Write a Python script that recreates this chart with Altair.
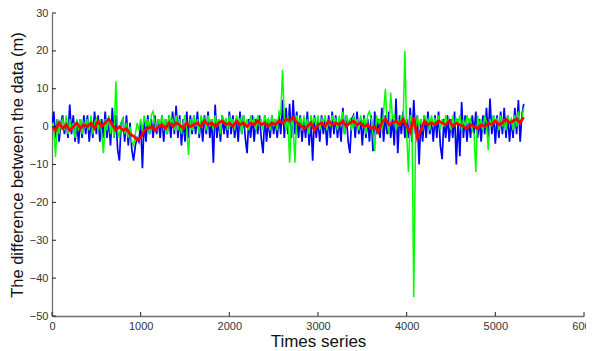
import altair as alt
import pandas as pd

# ---- data ----
x_ticks = [0, 1000, 2000, 3000, 4000, 5000, 6000]
y_ticks = [-50, -40, -30, -20, -10, 0, 10, 20, 30]

blue_step = 20
blue_vals = [
    0, 4, -3, 2, -4, 1, 3, -2, 2, -3,
    5.8, -2, 3, -4, 1, -4.5, 2, -3, 3, -2,
    3, -4, 2, -3, 4, -2, 3, -4, 2, -3,
    4, -3, 2, -5, 5, -3, 3, -6, -9, 1,
    2, -4, 3, -5, 1, -6, -9, -5, -3, -4,
    1, -11, 2, -4, 3, -2, 2, -3, 3, -2,
    2, -3, 3, -4, 2, -2, 3, -3, 4, -2,
    5.5, -3, 3, -5, 2, -4, 4, -3, 3, -2,
    3, -2, 4, -3, 2, -4, 3, -2, 4, -3,
    2, -9.5, 5.8, -3, 2, -4, 3, -2, 2, -3,
    4, -2, 3, -3, 2, -4, 4, -2, 3, -3,
    -7, 2, -3, 3, -4, 2, -2, 3, -3, -7,
    3, -4, 2, -3, 3, -2, 2, -3, 3, -2,
    7, -3, 5, -2, 6, -3, 7, -2, 4, -3,
    3, -4, 2, -3, 4, -5, 2, -9, 3, -3,
    2, -4, 3, -2, 2, -5, 3, -3, 4, -2,
    3, -3, 2, -4, 5, -2, 3, -4, -7, 2,
    3, -3, 4, -2, 2, -5, 3, -3, 2, -4,
    3, -6.5, 4, -2, 2, -3, 5, -4, 3, -2,
    4, -3, 2, -5, 7.4, -7, 3, -2, 4, -3,
    2, -3, 5, -4, 7, -2, 3, -10, 2, -4,
    3, -3, 4, -2, 2, -4, 3, -3, 4, -5,
    -8.6, 2, -3, 3, -4, 2, -3, 4, -10, 2,
    -7.8, 6.5, -3, 3, -4, 2, -3, 3, -2, 4,
    -3, 2, -4, 3, -2, 5, -3, 7.4, -2, 3,
    -4.5, 3, -3, 4, -2, 5, -3, 3, -4, 2,
    -3, 5, -2, 7, -4, 3, 6,
]

green_step = 20
green_vals = [
    1, -1, -8, 2, -2, 1, 2, -1, 3, -2,
    2, -1, 1, -3, 2, -1, 2, -2, 1, 0,
    2, -1, 3, -2, 1, 2, -1, 2, -2, -7,
    2, -1, 3, -2, 1, -3, 12, -1, -3, 1,
    2, -2, 1, -3, 0, -4, -5, -2, 1, -1,
    2, -1, 3, 0, 2, -2, 3, 4, 1, -1,
    2, 0, 3, -1, 2, -2, 3, 1, 2, -1,
    3, -1, 2, -2, 1, 3, -1, -7.5, 2, -1,
    3, 0, 2, -2, 3, 1, 2, -1, 3, 0,
    2, -1, 3, 0, 2, -2, 3, 1, 2, -1,
    3, 0, 2, -1, 3, 1, 2, -2, 3, 0,
    2, -1, 3, 1, 2, -1, 3, 0, 2, -1,
    3, 1, 2, -1, 3, 0, 2, -1, 4, 3,
    15, 2, -1, 3, -9.5, 2, 0, -9.5, 3, 1,
    2, -1, 3, 0, 2, -2, 3, 1, 2, 0,
    3, -1, 2, 1, 3, -1, 2, 0, 3, 1,
    2, -1, 3, 0, 4, -2, 3, 1, 2, -1,
    3, 0, 2, -1, 3, 1, 2, -2, 3, 4,
    2, -2, -6.5, 3, 1, 2, -1, 4, 10, 1,
    -2, 9, 2, 3, -1, 2, 0, 3, 1, 20,
    -2, -12, 3, 1, -45, -3, 3, 0, 2, -1,
    3, 1, 2, -1, 3, 0, 2, 1, 3, -1,
    2, 0, 3, 1, 2, -1, 3, 0, 2, 1,
    3, -1, 2, 0, 3, 1, 2, -1, -2, -12,
    3, 0, 2, -1, 3, 1, -6.2, 2, 0, 3,
    1, 2, -1, 3, 0, 2, -1, 3, 1, 2,
    -1, 3, 0, 4, 1, 2, 5,
]

red_step = 40
red_vals = [
    0, -1, 1, -0.5, 0.5, -1, 0, 1, -0.5, 0.5,
    0, 1, -0.5, 1.5, 0, 1, 2, 0.5, -1, 0,
    -1, -0.5, -2, -2.5, -3.5, -3, -1, -0.5, 0, -1,
    0, 0.5, -0.5, 1, 0, 1, 0.5, -0.5, 1, 0,
    0.5, 1, 0, 1.5, 0.5, 1, 0, 1, 1.5, 0.5,
    1, 0, 1.5, 0.5, 1, 0, 1, 0.5, 1.5, 0.5,
    1, 0, 1, 0.5, 1.5, 1, 2, 1.5, 2.5, 1,
    0.5, -0.5, 0, 1, -1, 0.5, 1, 0, 1.5, 0.5,
    1, 0.5, 1.5, 0, 1, 1.5, 0.5, 1, 0, 0.5,
    -0.5, 0, -1.5, 1, 2, 0.5, 1, 1.5, 0.5, 2,
    0, -1.5, 2.5, -3, -1, 1.5, 0.5, 1, 0.5, 1.5,
    1, 0.5, 1.5, 0, 1, 0.5, 0, -0.5, 0.5, 0,
    -0.5, 0.5, 0, 1, 0.5, 1.5, 0.5, 1, 2, 1,
    1.5, 2, 1, 2.5,
]

W, H = 532, 303
FONT = "Liberation Sans"
AXIS_GRAY = "#6e6e6e"


def frame(step, vals):
    return pd.DataFrame({"x": [i * step for i in range(len(vals))], "y": vals})


xs = alt.Scale(domain=[0, 6000], nice=False, zero=False)
ys = alt.Scale(domain=[-50, 30], nice=False, zero=False)

x_axis = alt.Axis(values=x_ticks, format="d", tickSize=0, grid=False,
                  domainColor=AXIS_GRAY, domainWidth=1.3, labelFont=FONT,
                  labelFontSize=11, labelColor="#333", labelPadding=4,
                  labelOverlap=False, labelFlush=False,
                  title="Times series", titleFont=FONT, titleFontSize=17,
                  titleFontWeight="normal", titleColor="#111", titlePadding=2)
y_axis = alt.Axis(values=y_ticks, format="d", tickSize=0, grid=False,
                  domainColor=AXIS_GRAY, domainWidth=1.3, labelFont=FONT,
                  labelFontSize=11, labelColor="#333", labelPadding=4,
                  labelOverlap=False, labelFlush=False,
                  title="The difference between the data (m)", titleFont=FONT,
                  titleFontSize=16.5, titleFontWeight="normal", titleColor="#111",
                  titlePadding=4)


def line(df, color, width):
    return alt.Chart(df).mark_line(color=color, strokeWidth=width, clip=True).encode(
        x=alt.X("x:Q", scale=xs, axis=x_axis),
        y=alt.Y("y:Q", scale=ys, axis=y_axis),
    )


blue = line(frame(blue_step, blue_vals), "#0000ff", 1.7)
green = line(frame(green_step, green_vals), "#00ff00", 1.5)
red = line(frame(red_step, red_vals), "#ff0000", 2.7)

xt = alt.Chart(pd.DataFrame({"t": x_ticks})).mark_rule(color="#222", strokeWidth=1).encode(
    x=alt.X("t:Q", scale=xs, axis=x_axis, title="Times series"),
    y=alt.value(H), y2=alt.value(H - 4))
yt = alt.Chart(pd.DataFrame({"t": y_ticks})).mark_rule(color="#222", strokeWidth=1).encode(
    y=alt.Y("t:Q", scale=ys, axis=y_axis, title="The difference between the data (m)"),
    x=alt.value(0), x2=alt.value(4))

chart = alt.layer(blue, green, red, xt, yt).properties(
    width=W, height=H,
    autosize=alt.AutoSizeParams(type="none"),
    padding={"left": 44, "top": 5, "right": 2, "bottom": 35},
).configure_view(stroke=None)

chart.save("out.html", embed_options={"renderer": "svg", "actions": False})
